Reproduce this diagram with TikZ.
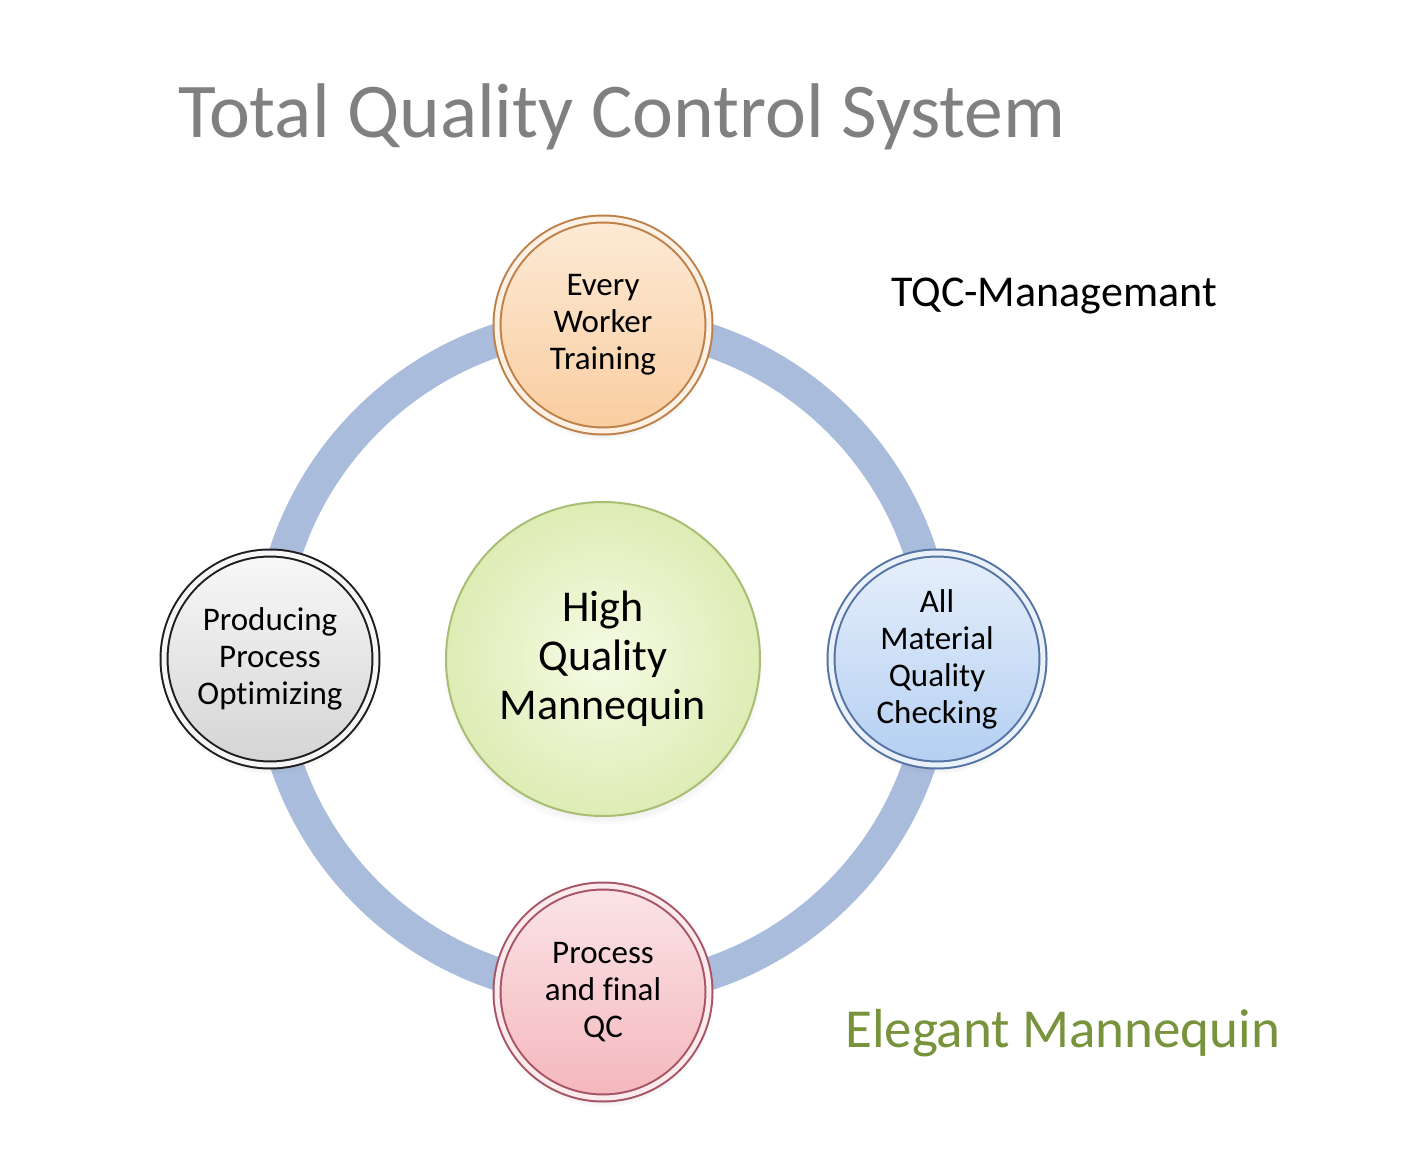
\documentclass[tikz,border=0pt]{standalone}
\usepackage{fontspec}
\setmainfont{Carlito}[Ligatures=NoCommon]
\usepackage{xcolor}
\usetikzlibrary{shadows}

\definecolor{ringblue}{HTML}{A9BCDC}
\definecolor{titlegray}{HTML}{808080}
\definecolor{brandgreen}{HTML}{77933C}
% bubble colours: edge, rim, face top, face bottom
\definecolor{orgedge}{HTML}{BE8046}
\definecolor{orgrim}{HTML}{FDF0E4}
\definecolor{orgtop}{HTML}{FDEAD6}
\definecolor{orgbot}{HTML}{F9CDA0}
\definecolor{gryedge}{HTML}{1E1E1E}
\definecolor{gryrim}{HTML}{F6F6F6}
\definecolor{grytop}{HTML}{F8F8F8}
\definecolor{grybot}{HTML}{D4D4D4}
\definecolor{bluedge}{HTML}{5273A3}
\definecolor{blurim}{HTML}{EAF1FA}
\definecolor{blutop}{HTML}{E6EFFB}
\definecolor{blubot}{HTML}{B4CFF2}
\definecolor{rededge}{HTML}{A65463}
\definecolor{redrim}{HTML}{FCEAEC}
\definecolor{redtop}{HTML}{FBE4E6}
\definecolor{redbot}{HTML}{F4B7BD}
\definecolor{hubedge}{HTML}{A8BE72}
\definecolor{hubin}{HTML}{F6FBE4}
\definecolor{hubout}{HTML}{DEECB5}

\tikzset{
  ring/.style={ringblue, line width=33pt},
  bubble/.style={circle, minimum size=212pt, inner sep=0pt, align=center,
    font=\fontsize{33}{37}\selectfont, line width=2pt, double distance=5pt,
    circular drop shadow={shadow xshift=0pt, shadow yshift=-6pt,
      shadow scale=1.03, opacity=0.3}},
  orgball/.style={bubble, draw=orgedge, double=orgrim, top color=orgtop, bottom color=orgbot},
  gryball/.style={bubble, draw=gryedge, double=gryrim, top color=grytop, bottom color=grybot},
  bluball/.style={bubble, draw=bluedge, double=blurim, top color=blutop, bottom color=blubot},
  redball/.style={bubble, draw=rededge, double=redrim, top color=redtop, bottom color=redbot},
  hub/.style={circle, minimum size=314pt, inner sep=0pt, align=center,
    font=\fontsize{44}{49}\selectfont, draw=hubedge, line width=2pt,
    inner color=hubin, outer color=hubout,
    circular drop shadow={shadow xshift=0pt, shadow yshift=-6pt,
      shadow scale=1.02, opacity=0.3}},
  label/.style={inner sep=0pt, anchor=base west}
}

\begin{document}
\begin{tikzpicture}[x=1pt, y=-1pt]
    \useasboundingbox[fill=white] (0,0) rectangle (1411,1155);

    % headings
    \node[label, titlegray, font=\fontsize{77.5}{80}\selectfont] (title) at (178,138) {Total Quality Control System};
    \node[label, font=\fontsize{44}{48}\selectfont] (tqc) at (891,307) {TQC-Managemant};
    \node[label, brandgreen, font=\fontsize{55}{60}\selectfont] (brand) at (845,1047) {Elegant Mannequin};

    % centre and the ring through the four steps
    \node[hub] (core) at (603,659) {High\\Quality\\Mannequin};
    \draw[ring] (603,657) circle (334);

    \node[orgball] (train) at (603,325) {Every\\Worker\\Training};
    \node[bluball] (check) at (937,659) {All\\Material\\Quality\\Checking};
    \node[redball] (final) at (603,992) {Process\\and final\\QC};
    \node[gryball] (optim) at (270,659) {Producing\\Process\\Optimizing};
\end{tikzpicture}
\end{document}
